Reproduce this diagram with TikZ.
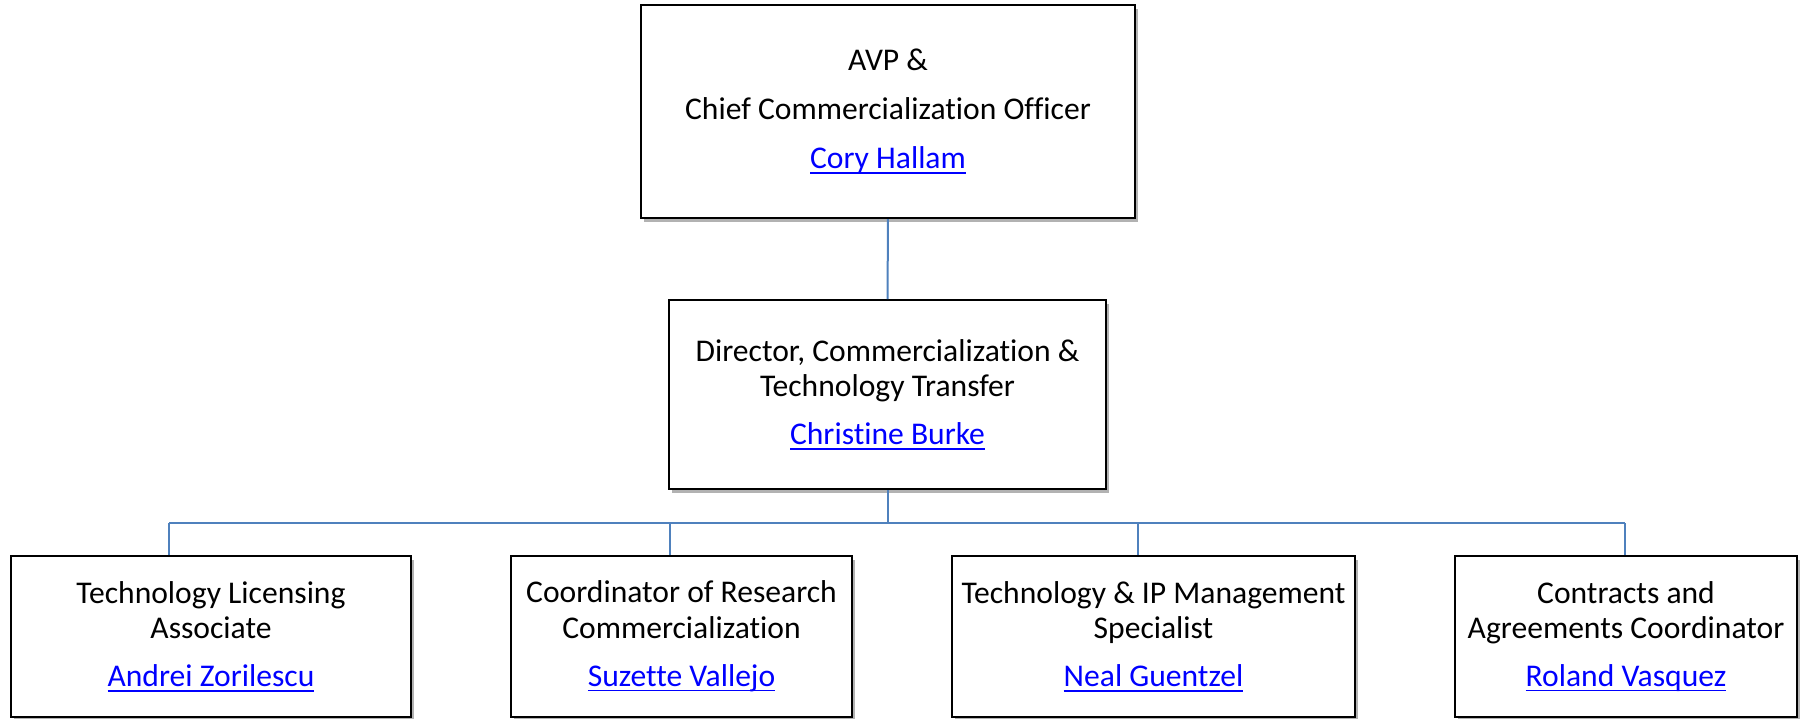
\documentclass[tikz,border=0pt]{standalone}
\usepackage{fontspec}
\setmainfont{Carlito}[Ligatures={NoCommon}]
\usepackage{xcolor}
\definecolor{linkblue}{HTML}{0000FF}
\definecolor{wire}{HTML}{4F81BD}
\definecolor{ink}{HTML}{000000}
\usepackage{tikz}
\usetikzlibrary{shadows,calc}

\newcommand{\linkname}[1]{\setbox0\hbox{#1}\rlap{\rule[-2.3pt]{\wd0}{0.7pt}}\box0}

\begin{document}
\begin{tikzpicture}[x=0.5pt,y=-0.5pt,
  box/.style={rectangle,draw=ink,line width=1pt,fill=white,text=ink,align=center,
    font=\fontsize{15.8}{17.6}\selectfont,inner sep=0pt,minimum height=80.5pt,
    drop shadow={shadow xshift=1.6pt,shadow yshift=-1.8pt,opacity=.3,fill=black}},
  conn/.style={wire,line width=1pt}]
  \useasboundingbox (0,0) rectangle (1802,718);
  \node[box,minimum width=247pt,minimum height=106.5pt] (avp) at (888,111.5)
    {AVP \&\\[7pt]Chief Commercialization Officer\\[7pt]\textcolor{linkblue}{\linkname{Cory Hallam}}};
  \node[box,minimum width=218.5pt,minimum height=94.5pt] (dir) at (887.5,394.5)
    {Director, Commercialization \&\\Technology Transfer\\[6.6pt]\textcolor{linkblue}{\linkname{Christine Burke}}};
  \node[box,minimum width=200pt] (tla) at (211,636.5)
    {Technology Licensing\\Associate\\[6.6pt]\textcolor{linkblue}{\linkname{Andrei Zorilescu}}};
  \node[box,minimum width=170.5pt] (crc) at (681.5,636.5)
    {Coordinator of Research\\Commercialization\\[6.6pt]\textcolor{linkblue}{\linkname{Suzette Vallejo}}};
  \node[box,minimum width=201.5pt] (ipm) at (1153.5,636.5)
    {Technology \& IP Management\\Specialist\\[6.6pt]\textcolor{linkblue}{\linkname{Neal Guentzel}}};
  \node[box,minimum width=171pt] (cac) at (1626,636.5)
    {Contracts and\\Agreements Coordinator\\[6.6pt]\textcolor{linkblue}{\linkname{Roland Vasquez}}};
  % junctions on the bus
  \coordinate (j1) at (169,523);
  \coordinate (j2) at (670,523);
  \coordinate (j3) at (1138,523);
  \coordinate (j4) at (1625,523);
  \draw[conn] (avp) -- (dir);
  \draw[conn] (dir.south) -- (dir.south |- j1);
  \draw[conn] (j1) -- (j4);
  \draw[conn] (j1) -- (j1 |- tla.north);
  \draw[conn] (j2) -- (j2 |- crc.north);
  \draw[conn] (j3) -- (j3 |- ipm.north);
  \draw[conn] (j4) -- (j4 |- cac.north);
\end{tikzpicture}
\end{document}
